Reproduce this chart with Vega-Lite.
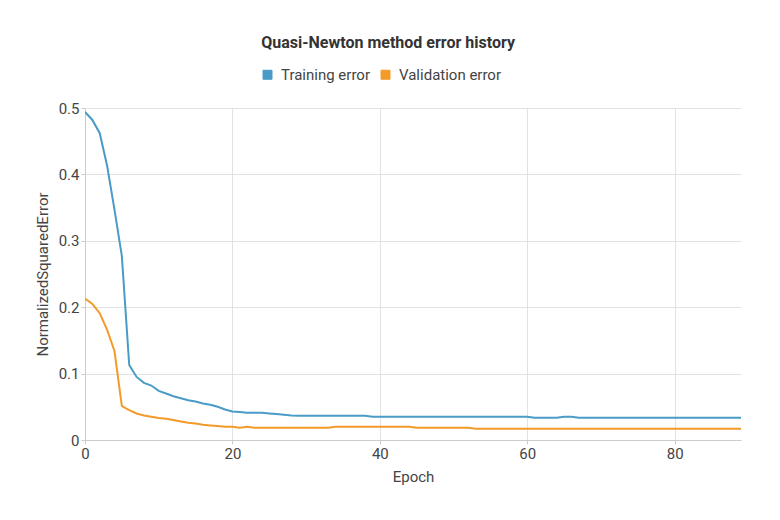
{
  "$schema": "https://vega.github.io/schema/vega-lite/v6.json",
  "autosize": "none",
  "width": 656,
  "height": 332,
  "padding": {"left": 85, "top": 108, "right": 39, "bottom": 80},
  "title": {
    "text": "Quasi-Newton method error history",
    "anchor": "middle",
    "frame": "bounds",
    "font": "Roboto",
    "fontSize": 16,
    "fontWeight": "bold",
    "color": "#333333",
    "offset": 16
  },
  "data": {
    "values": [
      {"epoch": 0, "error": 0.494, "series": "Training error"},
      {"epoch": 1, "error": 0.482, "series": "Training error"},
      {"epoch": 2, "error": 0.462, "series": "Training error"},
      {"epoch": 3, "error": 0.413, "series": "Training error"},
      {"epoch": 4, "error": 0.347, "series": "Training error"},
      {"epoch": 5, "error": 0.277, "series": "Training error"},
      {"epoch": 6, "error": 0.113, "series": "Training error"},
      {"epoch": 7, "error": 0.095, "series": "Training error"},
      {"epoch": 8, "error": 0.086, "series": "Training error"},
      {"epoch": 9, "error": 0.082, "series": "Training error"},
      {"epoch": 10, "error": 0.074, "series": "Training error"},
      {"epoch": 11, "error": 0.07, "series": "Training error"},
      {"epoch": 12, "error": 0.066, "series": "Training error"},
      {"epoch": 13, "error": 0.063, "series": "Training error"},
      {"epoch": 14, "error": 0.06, "series": "Training error"},
      {"epoch": 15, "error": 0.058, "series": "Training error"},
      {"epoch": 16, "error": 0.055, "series": "Training error"},
      {"epoch": 17, "error": 0.053, "series": "Training error"},
      {"epoch": 18, "error": 0.05, "series": "Training error"},
      {"epoch": 19, "error": 0.046, "series": "Training error"},
      {"epoch": 20, "error": 0.043, "series": "Training error"},
      {"epoch": 21, "error": 0.042, "series": "Training error"},
      {"epoch": 22, "error": 0.041, "series": "Training error"},
      {"epoch": 23, "error": 0.041, "series": "Training error"},
      {"epoch": 24, "error": 0.041, "series": "Training error"},
      {"epoch": 25, "error": 0.04, "series": "Training error"},
      {"epoch": 26, "error": 0.039, "series": "Training error"},
      {"epoch": 27, "error": 0.038, "series": "Training error"},
      {"epoch": 28, "error": 0.037, "series": "Training error"},
      {"epoch": 29, "error": 0.0365, "series": "Training error"},
      {"epoch": 30, "error": 0.0365, "series": "Training error"},
      {"epoch": 31, "error": 0.0365, "series": "Training error"},
      {"epoch": 32, "error": 0.0365, "series": "Training error"},
      {"epoch": 33, "error": 0.0365, "series": "Training error"},
      {"epoch": 34, "error": 0.0365, "series": "Training error"},
      {"epoch": 35, "error": 0.0365, "series": "Training error"},
      {"epoch": 36, "error": 0.0365, "series": "Training error"},
      {"epoch": 37, "error": 0.0365, "series": "Training error"},
      {"epoch": 38, "error": 0.0365, "series": "Training error"},
      {"epoch": 39, "error": 0.035, "series": "Training error"},
      {"epoch": 40, "error": 0.035, "series": "Training error"},
      {"epoch": 41, "error": 0.035, "series": "Training error"},
      {"epoch": 42, "error": 0.035, "series": "Training error"},
      {"epoch": 43, "error": 0.035, "series": "Training error"},
      {"epoch": 44, "error": 0.035, "series": "Training error"},
      {"epoch": 45, "error": 0.035, "series": "Training error"},
      {"epoch": 46, "error": 0.035, "series": "Training error"},
      {"epoch": 47, "error": 0.035, "series": "Training error"},
      {"epoch": 48, "error": 0.035, "series": "Training error"},
      {"epoch": 49, "error": 0.035, "series": "Training error"},
      {"epoch": 50, "error": 0.035, "series": "Training error"},
      {"epoch": 51, "error": 0.035, "series": "Training error"},
      {"epoch": 52, "error": 0.035, "series": "Training error"},
      {"epoch": 53, "error": 0.035, "series": "Training error"},
      {"epoch": 54, "error": 0.035, "series": "Training error"},
      {"epoch": 55, "error": 0.035, "series": "Training error"},
      {"epoch": 56, "error": 0.035, "series": "Training error"},
      {"epoch": 57, "error": 0.035, "series": "Training error"},
      {"epoch": 58, "error": 0.035, "series": "Training error"},
      {"epoch": 59, "error": 0.035, "series": "Training error"},
      {"epoch": 60, "error": 0.035, "series": "Training error"},
      {"epoch": 61, "error": 0.0336, "series": "Training error"},
      {"epoch": 62, "error": 0.0336, "series": "Training error"},
      {"epoch": 63, "error": 0.0336, "series": "Training error"},
      {"epoch": 64, "error": 0.0336, "series": "Training error"},
      {"epoch": 65, "error": 0.035, "series": "Training error"},
      {"epoch": 66, "error": 0.035, "series": "Training error"},
      {"epoch": 67, "error": 0.0336, "series": "Training error"},
      {"epoch": 68, "error": 0.0336, "series": "Training error"},
      {"epoch": 69, "error": 0.0336, "series": "Training error"},
      {"epoch": 70, "error": 0.0336, "series": "Training error"},
      {"epoch": 71, "error": 0.0336, "series": "Training error"},
      {"epoch": 72, "error": 0.0336, "series": "Training error"},
      {"epoch": 73, "error": 0.0336, "series": "Training error"},
      {"epoch": 74, "error": 0.0336, "series": "Training error"},
      {"epoch": 75, "error": 0.0336, "series": "Training error"},
      {"epoch": 76, "error": 0.0336, "series": "Training error"},
      {"epoch": 77, "error": 0.0336, "series": "Training error"},
      {"epoch": 78, "error": 0.0336, "series": "Training error"},
      {"epoch": 79, "error": 0.0336, "series": "Training error"},
      {"epoch": 80, "error": 0.0336, "series": "Training error"},
      {"epoch": 81, "error": 0.0336, "series": "Training error"},
      {"epoch": 82, "error": 0.0336, "series": "Training error"},
      {"epoch": 83, "error": 0.0336, "series": "Training error"},
      {"epoch": 84, "error": 0.0336, "series": "Training error"},
      {"epoch": 85, "error": 0.0336, "series": "Training error"},
      {"epoch": 86, "error": 0.0336, "series": "Training error"},
      {"epoch": 87, "error": 0.0336, "series": "Training error"},
      {"epoch": 88, "error": 0.0336, "series": "Training error"},
      {"epoch": 89, "error": 0.0336, "series": "Training error"},
      {"epoch": 0, "error": 0.213, "series": "Validation error"},
      {"epoch": 1, "error": 0.205, "series": "Validation error"},
      {"epoch": 2, "error": 0.191, "series": "Validation error"},
      {"epoch": 3, "error": 0.166, "series": "Validation error"},
      {"epoch": 4, "error": 0.134, "series": "Validation error"},
      {"epoch": 5, "error": 0.051, "series": "Validation error"},
      {"epoch": 6, "error": 0.045, "series": "Validation error"},
      {"epoch": 7, "error": 0.04, "series": "Validation error"},
      {"epoch": 8, "error": 0.037, "series": "Validation error"},
      {"epoch": 9, "error": 0.035, "series": "Validation error"},
      {"epoch": 10, "error": 0.033, "series": "Validation error"},
      {"epoch": 11, "error": 0.032, "series": "Validation error"},
      {"epoch": 12, "error": 0.03, "series": "Validation error"},
      {"epoch": 13, "error": 0.028, "series": "Validation error"},
      {"epoch": 14, "error": 0.026, "series": "Validation error"},
      {"epoch": 15, "error": 0.025, "series": "Validation error"},
      {"epoch": 16, "error": 0.023, "series": "Validation error"},
      {"epoch": 17, "error": 0.022, "series": "Validation error"},
      {"epoch": 18, "error": 0.021, "series": "Validation error"},
      {"epoch": 19, "error": 0.02, "series": "Validation error"},
      {"epoch": 20, "error": 0.02, "series": "Validation error"},
      {"epoch": 21, "error": 0.0186, "series": "Validation error"},
      {"epoch": 22, "error": 0.02, "series": "Validation error"},
      {"epoch": 23, "error": 0.0186, "series": "Validation error"},
      {"epoch": 24, "error": 0.0186, "series": "Validation error"},
      {"epoch": 25, "error": 0.0186, "series": "Validation error"},
      {"epoch": 26, "error": 0.0186, "series": "Validation error"},
      {"epoch": 27, "error": 0.0186, "series": "Validation error"},
      {"epoch": 28, "error": 0.0186, "series": "Validation error"},
      {"epoch": 29, "error": 0.0186, "series": "Validation error"},
      {"epoch": 30, "error": 0.0186, "series": "Validation error"},
      {"epoch": 31, "error": 0.0186, "series": "Validation error"},
      {"epoch": 32, "error": 0.0186, "series": "Validation error"},
      {"epoch": 33, "error": 0.0186, "series": "Validation error"},
      {"epoch": 34, "error": 0.02, "series": "Validation error"},
      {"epoch": 35, "error": 0.02, "series": "Validation error"},
      {"epoch": 36, "error": 0.02, "series": "Validation error"},
      {"epoch": 37, "error": 0.02, "series": "Validation error"},
      {"epoch": 38, "error": 0.02, "series": "Validation error"},
      {"epoch": 39, "error": 0.02, "series": "Validation error"},
      {"epoch": 40, "error": 0.02, "series": "Validation error"},
      {"epoch": 41, "error": 0.02, "series": "Validation error"},
      {"epoch": 42, "error": 0.02, "series": "Validation error"},
      {"epoch": 43, "error": 0.02, "series": "Validation error"},
      {"epoch": 44, "error": 0.02, "series": "Validation error"},
      {"epoch": 45, "error": 0.0186, "series": "Validation error"},
      {"epoch": 46, "error": 0.0186, "series": "Validation error"},
      {"epoch": 47, "error": 0.0186, "series": "Validation error"},
      {"epoch": 48, "error": 0.0186, "series": "Validation error"},
      {"epoch": 49, "error": 0.0186, "series": "Validation error"},
      {"epoch": 50, "error": 0.0186, "series": "Validation error"},
      {"epoch": 51, "error": 0.0186, "series": "Validation error"},
      {"epoch": 52, "error": 0.0186, "series": "Validation error"},
      {"epoch": 53, "error": 0.017, "series": "Validation error"},
      {"epoch": 54, "error": 0.017, "series": "Validation error"},
      {"epoch": 55, "error": 0.017, "series": "Validation error"},
      {"epoch": 56, "error": 0.017, "series": "Validation error"},
      {"epoch": 57, "error": 0.017, "series": "Validation error"},
      {"epoch": 58, "error": 0.017, "series": "Validation error"},
      {"epoch": 59, "error": 0.017, "series": "Validation error"},
      {"epoch": 60, "error": 0.017, "series": "Validation error"},
      {"epoch": 61, "error": 0.017, "series": "Validation error"},
      {"epoch": 62, "error": 0.017, "series": "Validation error"},
      {"epoch": 63, "error": 0.017, "series": "Validation error"},
      {"epoch": 64, "error": 0.017, "series": "Validation error"},
      {"epoch": 65, "error": 0.017, "series": "Validation error"},
      {"epoch": 66, "error": 0.017, "series": "Validation error"},
      {"epoch": 67, "error": 0.017, "series": "Validation error"},
      {"epoch": 68, "error": 0.017, "series": "Validation error"},
      {"epoch": 69, "error": 0.017, "series": "Validation error"},
      {"epoch": 70, "error": 0.017, "series": "Validation error"},
      {"epoch": 71, "error": 0.017, "series": "Validation error"},
      {"epoch": 72, "error": 0.017, "series": "Validation error"},
      {"epoch": 73, "error": 0.017, "series": "Validation error"},
      {"epoch": 74, "error": 0.017, "series": "Validation error"},
      {"epoch": 75, "error": 0.017, "series": "Validation error"},
      {"epoch": 76, "error": 0.017, "series": "Validation error"},
      {"epoch": 77, "error": 0.017, "series": "Validation error"},
      {"epoch": 78, "error": 0.017, "series": "Validation error"},
      {"epoch": 79, "error": 0.017, "series": "Validation error"},
      {"epoch": 80, "error": 0.017, "series": "Validation error"},
      {"epoch": 81, "error": 0.017, "series": "Validation error"},
      {"epoch": 82, "error": 0.017, "series": "Validation error"},
      {"epoch": 83, "error": 0.017, "series": "Validation error"},
      {"epoch": 84, "error": 0.017, "series": "Validation error"},
      {"epoch": 85, "error": 0.017, "series": "Validation error"},
      {"epoch": 86, "error": 0.017, "series": "Validation error"},
      {"epoch": 87, "error": 0.017, "series": "Validation error"},
      {"epoch": 88, "error": 0.017, "series": "Validation error"},
      {"epoch": 89, "error": 0.017, "series": "Validation error"}
    ]
  },
  "mark": {"type": "line", "strokeWidth": 2, "clip": true},
  "encoding": {
    "x": {
      "field": "epoch",
      "type": "quantitative",
      "title": "Epoch",
      "scale": {"domain": [0, 89], "nice": false, "zero": true},
      "axis": {"values": [0, 20, 40, 60, 80], "titlePadding": 8, "labelFlush": false}
    },
    "y": {
      "field": "error",
      "type": "quantitative",
      "title": "NormalizedSquaredError",
      "scale": {"domain": [0, 0.5], "nice": false},
      "axis": {"values": [0, 0.1, 0.2, 0.3, 0.4, 0.5], "format": "~g", "titlePadding": 8}
    },
    "color": {
      "field": "series",
      "type": "nominal",
      "title": null,
      "scale": {
        "domain": ["Training error", "Validation error"],
        "range": ["#4a9bc7", "#f39a28"]
      },
      "legend": {
        "orient": "none",
        "direction": "horizontal",
        "legendX": 175,
        "legendY": -41,
        "symbolType": "square",
        "symbolSize": 81,
        "symbolStrokeWidth": 1,
        "symbolStrokeColor": "#333333",
        "labelOffset": 6,
        "columnPadding": 8,
        "labelFont": "Roboto",
        "labelFontSize": 15,
        "labelColor": "#444444",
        "encode": {
          "symbols": {
            "update": {
              "fill": {"scale": "color", "field": "value"},
              "stroke": {"value": "#333333"},
              "strokeWidth": {"value": 1},
              "fillOpacity": {"value": 1}
            }
          }
        }
      }
    }
  },
  "config": {
    "view": {"stroke": null},
    "axis": {
      "labelFont": "Roboto",
      "labelFontSize": 15,
      "labelColor": "#444444",
      "titleFont": "Roboto",
      "titleFontSize": 15,
      "titleFontWeight": "normal",
      "titleColor": "#444444",
      "gridColor": "#e2e2e2",
      "domainColor": "#cccccc",
      "tickColor": "#cccccc",
      "tickSize": 4,
      "labelPadding": 2
    }
  }
}
